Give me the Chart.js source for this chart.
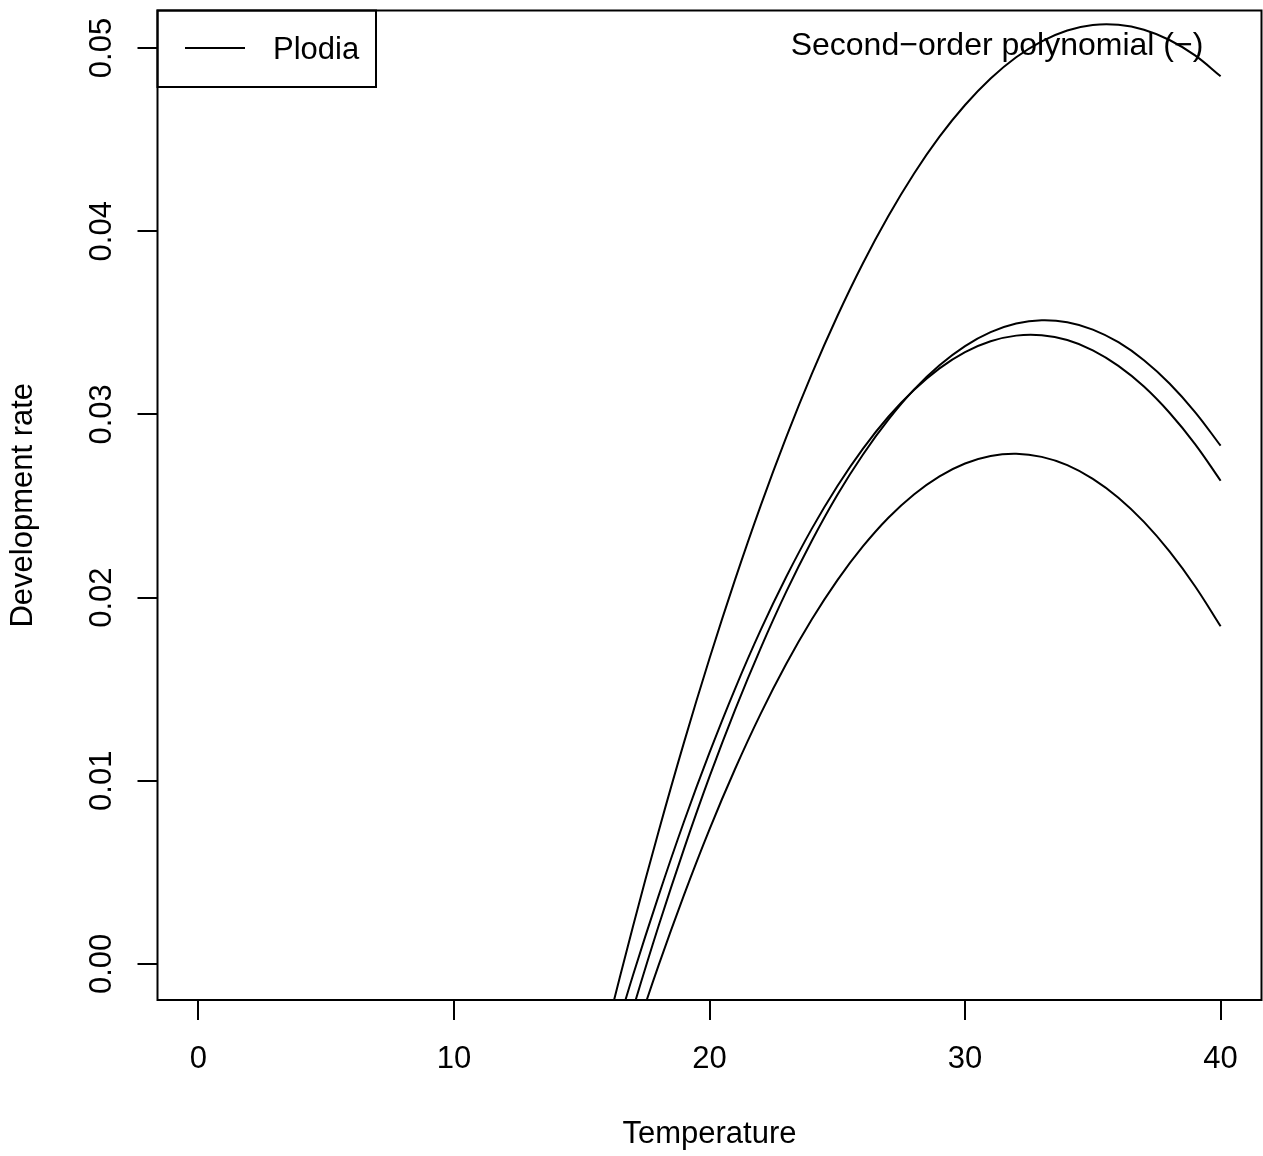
<!DOCTYPE html>
<html>
<head>
<meta charset="utf-8">
<script src="https://cdn.jsdelivr.net/npm/chart.js@4.4.1/dist/chart.umd.min.js"></script>
<style>
    body { margin: 0; background: #fff; }
    #wrap { width: 1263px; height: 1156px; position: relative; }
</style>
</head>
<body>
<div id="wrap"><canvas id="myChart"></canvas></div>
<script>
const temps = [16, 17, 18, 19, 20, 21, 22, 23, 24, 25, 26, 27, 28, 29, 30, 31, 32, 33, 34, 35, 36, 37, 38, 39, 40]

// development rate, one array per curve
const rateA = [-0.00343, 0.00202, 0.00719, 0.01208, 0.01667, 0.02098, 0.02501, 0.02875, 0.03220, 0.03536, 0.03824, 0.04083, 0.04314,
    0.04516, 0.04689, 0.04834, 0.04950, 0.05037, 0.05096, 0.05126, 0.05127, 0.05100, 0.05044, 0.04960, 0.04846]
const rateB = [-0.00730, -0.00249, 0.00204, 0.00627, 0.01022, 0.01387, 0.01723, 0.02031, 0.02309, 0.02560, 0.02780, 0.02971, 0.03135,
    0.03268, 0.03373, 0.03449, 0.03496, 0.03514, 0.03503, 0.03463, 0.03394, 0.03296, 0.03169, 0.03013, 0.02829]
const rateC = [-0.00530, -0.00065, 0.00369, 0.00776, 0.01153, 0.01502, 0.01822, 0.02112, 0.02375, 0.02608, 0.02812, 0.02987, 0.03133,
    0.03251, 0.03340, 0.03399, 0.03430, 0.03432, 0.03406, 0.03350, 0.03265, 0.03152, 0.03009, 0.02838, 0.02638]
const rateD = [-0.00872, -0.00427, -0.00011, 0.00376, 0.00735, 0.01064, 0.01365, 0.01637, 0.01880, 0.02094, 0.02279, 0.02436, 0.02563,
    0.02662, 0.02732, 0.02773, 0.02785, 0.02768, 0.02723, 0.02648, 0.02545, 0.02413, 0.02252, 0.02062, 0.01843]

const xTicks = [0, 10, 20, 30, 40]
const yTicks = [0, 0.01, 0.02, 0.03, 0.04, 0.05]
const yTickLabels = ['0.00', '0.01', '0.02', '0.03', '0.04', '0.05']

const legendLabel = 'Plodia'
const modelLabel = 'Second\u2212order polynomial (\u2212)'

const FONT = '"Liberation Sans", Arial, Helvetica, sans-serif'
Chart.defaults.font.family = FONT
Chart.defaults.font.size = 31
Chart.defaults.color = '#000'

function pts(arr) {
    return temps.map((t, i) => ({ x: t, y: arr[i] }))
}

function curve(label, arr) {
    return {
        label: label,
        data: pts(arr),
        borderColor: '#000',
        backgroundColor: '#000',
        borderWidth: 2,
        pointRadius: 0,
        tension: 0.4,
        clip: 0,
        fill: false
    }
}

// box around the plot, legend box and the text in the top right
const extras = {
    id: 'extras',
    afterDraw(chart) {
        const ctx = chart.ctx
        const a = chart.chartArea
        const ys = chart.scales.y
        ctx.save()
        ctx.strokeStyle = '#000'
        ctx.lineWidth = 2
        ctx.strokeRect(a.left, a.top, a.right - a.left, a.bottom - a.top)

        // y tick labels, rotated like R does
        ctx.fillStyle = '#000'
        ctx.font = '31px ' + FONT
        ctx.textAlign = 'center'
        ctx.textBaseline = 'alphabetic'
        yTicks.forEach((v, i) => {
            const py = ys.getPixelForValue(v)
            ctx.save()
            ctx.translate(111, py)
            ctx.rotate(-Math.PI / 2)
            ctx.fillText(yTickLabels[i], 0, 0)
            ctx.restore()
        })

        // legend
        ctx.strokeRect(a.left, a.top, 376 - a.left, 87 - a.top)
        ctx.beginPath()
        ctx.moveTo(185, 48)
        ctx.lineTo(245, 48)
        ctx.stroke()
        ctx.textAlign = 'left'
        ctx.fillText(legendLabel, 273, 59)

        ctx.font = '32px ' + FONT
        ctx.textAlign = 'center'
        ctx.fillText(modelLabel, 997, 55)
        ctx.restore()
    }
}

const myChart = new Chart(
    document.getElementById('myChart'), {
        type: 'line',
        data: {
            datasets: [
                curve('A', rateA),
                curve('B', rateB),
                curve('C', rateC),
                curve('D', rateD)
            ]
        },
        options: {
            responsive: true,
            maintainAspectRatio: false,
            animation: false,
            layout: {
                padding: { top: 10.5, right: 1.5, left: 0, bottom: 0 }
            },
            plugins: {
                legend: { display: false },
                tooltip: { enabled: false }
            },
            scales: {
                x: {
                    type: 'linear',
                    min: -1.6,
                    max: 41.6,
                    afterBuildTicks: (s) => { s.ticks = xTicks.map(v => ({ value: v })) },
                    afterFit: (s) => { s.height = 156 },
                    border: { display: false },
                    grid: {
                        drawOnChartArea: false,
                        drawTicks: true,
                        tickLength: 20,
                        color: '#000',
                        lineWidth: 2
                    },
                    ticks: {
                        padding: 21,
                        maxRotation: 0,
                        font: { size: 31 },
                        color: '#000'
                    },
                    title: {
                        display: true,
                        text: 'Temperature',
                        font: { size: 31 },
                        color: '#000',
                        padding: { top: 0, bottom: 3 }
                    }
                },
                y: {
                    type: 'linear',
                    min: -0.00197,
                    max: 0.05205,
                    afterBuildTicks: (s) => { s.ticks = yTicks.map(v => ({ value: v })) },
                    afterFit: (s) => { s.width = 157.5 },
                    border: { display: false },
                    grid: {
                        drawOnChartArea: false,
                        drawTicks: true,
                        tickLength: 20,
                        color: '#000',
                        lineWidth: 2
                    },
                    ticks: { display: false },
                    title: {
                        display: true,
                        text: 'Development rate',
                        font: { size: 31 },
                        color: '#000',
                        padding: { top: 5, bottom: 0 }
                    }
                }
            }
        },
        plugins: [extras]
    }
)
</script>
</body>
</html>
